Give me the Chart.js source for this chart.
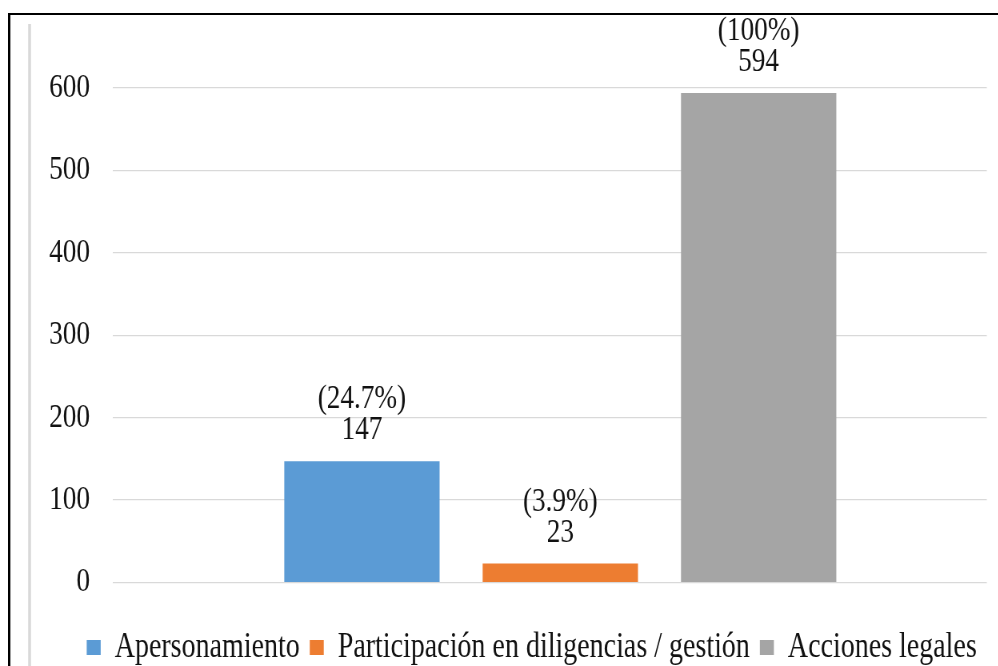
<!DOCTYPE html>
<html lang="es">
<head>
<meta charset="utf-8">
<title>Acciones legales</title>
<script src="https://cdn.jsdelivr.net/npm/chart.js@4.4.1/dist/chart.umd.min.js"></script>
<style>
  html, body { margin:0; padding:0; background:#fff; overflow:hidden; }
  /* the reference uses a horizontally squeezed serif, so the canvas is drawn wider and squeezed */
  #chart { display:block; transform:scaleX(0.8); transform-origin:0 0; }
</style>
</head>
<body>
<canvas id="chart" width="1248" height="666"></canvas>
<script>
// data
const categories = ['Apersonamiento', 'Participación en diligencias / gestión', 'Acciones legales'];
const counts = [147, 23, 594];
const percentLabels = ['(24.7%)', '(3.9%)', '(100%)'];
const slots = [1, 2, 3];
const yMax = 600;
const yStep = 100;

const colors = ['#5b9bd5', '#ed7d31', '#a5a5a5'];
const FONT = '"Liberation Serif", "Times New Roman", serif';

// outer frame like the screenshot of the document
const framePlugin = {
  id: 'frame',
  beforeDraw(chart){
    const ctx = chart.ctx;
    ctx.save();
    ctx.strokeStyle = '#d9d9d9';
    ctx.lineWidth = 3.5;
    ctx.beginPath();
    ctx.moveTo(37, 24);
    ctx.lineTo(37, chart.height);
    ctx.stroke();
    ctx.strokeStyle = '#000';
    ctx.lineWidth = 2;
    ctx.beginPath();
    ctx.moveTo(10, 14);
    ctx.lineTo(chart.width, 14);
    ctx.stroke();
    ctx.lineWidth = 3;
    ctx.beginPath();
    ctx.moveTo(11.5, 13);
    ctx.lineTo(11.5, chart.height);
    ctx.stroke();
    ctx.restore();
  }
};

// value + percent above each bar
const barLabels = {
  id: 'barLabels',
  afterDatasetsDraw(chart){
    const ctx = chart.ctx;
    ctx.save();
    ctx.font = '34px ' + FONT;
    ctx.fillStyle = '#111';
    ctx.textAlign = 'center';
    ctx.textBaseline = 'alphabetic';
    chart.data.datasets.forEach((ds, i)=>{
      const bar = chart.getDatasetMeta(i).data[0];
      if (!bar) return;
      ctx.fillText(String(counts[i]), bar.x, bar.y - 22);
      ctx.fillText(percentLabels[i], bar.x, bar.y - 53);
    });
    ctx.restore();
  }
};

const datasets = categories.map((name, i)=>({
  label: name,
  data: [{ x: slots[i], y: counts[i] }],
  backgroundColor: colors[i],
  borderWidth: 0,
  grouped: false,
  categoryPercentage: 1,
  barPercentage: 0.783
}));

new Chart(document.getElementById('chart'), {
  type: 'bar',
  data: { datasets },
  options: {
    responsive: false,
    animation: false,
    events: [],
    layout: { padding: { top: 88, left: 0, right: 14.5, bottom: -9 } },
    plugins: {
      title: { display: false },
      tooltip: { enabled: false },
      legend: {
        position: 'bottom',
        align: 'end',
        labels: {
          font: { family: FONT, size: 35 },
          color: '#111',
          boxWidth: 17.5,
          boxHeight: 15,
          padding: 12.5
        }
      }
    },
    scales: {
      x: {
        type: 'linear',
        offset: false,
        min: -0.255,
        max: 4.15,
        ticks: { display: false },
        grid: { display: false },
        border: { display: false },
        afterBuildTicks: (s)=>{ s.ticks = [{ value: s.min }, { value: s.max }]; },
        afterFit: (s)=>{ s.height = 35; }
      },
      y: {
        min: 0,
        max: yMax,
        ticks: {
          stepSize: yStep,
          padding: 28.75,
          color: '#111',
          font: { family: FONT, size: 34 }
        },
        grid: { color: '#d9d9d9', lineWidth: 1.2, drawTicks: false },
        border: { display: false },
        afterFit: (s)=>{ s.width = 141.25; }
      }
    }
  },
  plugins: [framePlugin, barLabels]
});
</script>
</body>
</html>
